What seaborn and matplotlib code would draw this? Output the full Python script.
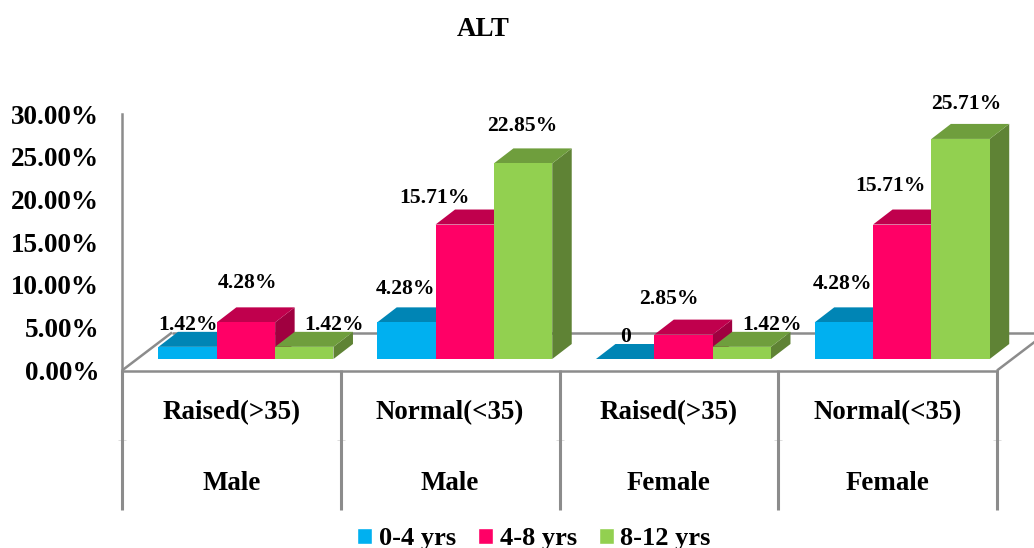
import pandas as pd
import matplotlib.pyplot as plt
import seaborn as sns
from matplotlib.lines import Line2D
from matplotlib.patches import Polygon

W, H = 1034, 548

groups = ["Raised(>35)", "Normal(<35)", "Raised(>35)", "Normal(<35)"]
sexes = ["Male", "Male", "Female", "Female"]
ages = ["0-4 yrs", "4-8 yrs", "8-12 yrs"]
age_0_4 = [1.42, 4.28, 0, 4.28]
age_4_8 = [4.28, 15.71, 2.85, 15.71]
age_8_12 = [1.42, 22.85, 1.42, 25.71]
y_ticks = [0, 5, 10, 15, 20, 25, 30]

# label offsets from the top centre of each bar, in pixels
offsets = {
    "0-4 yrs": [(0, 22), (-1, 33), (0, 22), (-1, 38)],
    "4-8 yrs": [(2, 39), (-30, 27), (-15, 36), (-12, 39)],
    "8-12 yrs": [(30, 22), (-1, 37), (30, 22), (6, 35)],
}

colors = ["#00B0F0", "#FF0066", "#92D050"]
top_colors = ["#0085B5", "#C0004D", "#6F9E3D"]
side_colors = ["#0074A0", "#A00040", "#5F8335"]
GREY = "#8C8C8C"

sns.set_style("white")
plt.rcParams["font.family"] = ["Liberation Serif", "DejaVu Serif"]
plt.rcParams["font.weight"] = "bold"
plt.rcParams["text.color"] = "black"
plt.rcParams["ytick.labelcolor"] = "black"

rows = []
for name, vals in zip(ages, [age_0_4, age_4_8, age_8_12]):
    for i, v in enumerate(vals):
        rows.append({"slot": i, "age": name, "value": v})
df = pd.DataFrame(rows)

fig = plt.figure(figsize=(W / 100, H / 100), dpi=100)


def rect(x0, y0, x1, y1):
    return [x0 / W, 1 - y0 / H, (x1 - x0) / W, (y0 - y1) / H]


# axis frame: value axis sits on the front edge of the floor
base = fig.add_axes(rect(122, 370.5, 997, 114))
base.set_xlim(0, 1)
base.set_ylim(0, 30)
base.set_xticks([])
base.set_yticks(y_ticks, [f"{t:.2f}%" for t in y_ticks], fontsize=19.5, color="black")
base.tick_params(axis="y", length=0, pad=16.5)
sns.despine(ax=base, top=True, right=True)
for side in ["left", "bottom"]:
    base.spines[side].set_color(GREY)
    base.spines[side].set_linewidth(1.8)


def floor_line(xs, ys, lw=1.8, color=GREY):
    base.add_line(Line2D([x / W for x in xs], [1 - y / H for y in ys],
                         transform=fig.transFigure, clip_on=False,
                         color=color, lw=lw, solid_capstyle="butt"))


# floor of the 3d box
floor_line([172, 1047], [332.5, 332.5])
floor_line([122, 172], [370.5, 332.5])
floor_line([997, 1047], [370.5, 332.5])

# multi level category separators, with the faint mark between the two levels
for x in [122, 340.7, 559.5, 778.2, 997]:
    floor_line([x - 4, x + 4], [440, 440], lw=0.7, color="#DDDDDD")
    floor_line([x, x], [370, 510], lw=2.2)

# bars live one depth step up and to the right of the frame
ax = fig.add_axes(rect(136.6, 359, 1011.6, 102.2))
ax.patch.set_alpha(0)
sns.barplot(data=df, x="slot", y="value", hue="age", hue_order=ages,
            palette=colors, width=0.8, gap=0, saturation=1, ax=ax, zorder=5)
ax.set_xlim(-0.5, 3.5)
ax.set_ylim(0, 30)
handles, labels = ax.get_legend_handles_labels()
ax.get_legend().remove()
ax.axis("off")

depth_x = 19.5 / 218.75
depth_y = 15 / 8.56

for h, (name, container) in enumerate(zip(ages, ax.containers)):
    for i, bar in enumerate(container):
        x0, x1 = bar.get_x(), bar.get_x() + bar.get_width()
        top = bar.get_height()
        z = 5 + i * 3 + h
        bar.set_zorder(z + 0.5)
        bar.set_edgecolor("none")
        ax.add_patch(Polygon([(x1, 0), (x1 + depth_x, depth_y),
                              (x1 + depth_x, top + depth_y), (x1, top)],
                             color=side_colors[h], lw=0, zorder=z, clip_on=False))
        ax.add_patch(Polygon([(x0, top), (x0 + depth_x, top + depth_y),
                              (x1 + depth_x, top + depth_y), (x1, top)],
                             color=top_colors[h], lw=0, zorder=z + 0.2, clip_on=False))
        text = "0" if top == 0 else f"{top:.2f}%"
        ax.annotate(text, ((x0 + x1) / 2, top), xytext=offsets[name][i],
                    textcoords="offset pixels", ha="center", va="center",
                    fontsize=15.6, fontweight="bold", color="black", zorder=50,
                    annotation_clip=False)

# category levels
for i, (g, s) in enumerate(zip(groups, sexes)):
    cx = (122 + 218.75 * (i + 0.5)) / W
    fig.text(cx, 1 - 413 / H, g, ha="center", va="center", fontsize=19.4)
    fig.text(cx, 1 - 483 / H, s, ha="center", va="center", fontsize=19.4)

fig.text(483 / W, 1 - 29 / H, "ALT", ha="center", va="center", fontsize=19.4)

fig.legend(handles, labels, loc="center", bbox_to_anchor=(534 / W, 1 - 538.5 / H),
           ncol=3, frameon=False, fontsize=19, handlelength=0.56, handleheight=0.56,
           handletextpad=0.25, columnspacing=0.85, borderpad=0)

fig.savefig("out.png", dpi=100)
